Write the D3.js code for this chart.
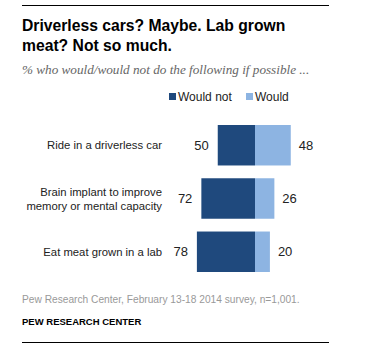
<!DOCTYPE html>
<html>
<head>
<meta charset="utf-8">
<script src="https://cdn.jsdelivr.net/npm/d3@7"></script>
<style>
  body { margin: 0; background: #fff; }
  svg { display: block; }
</style>
</head>
<body>
<div id="chart"></div>
<script>
const categories = ["Ride in a driverless car", "Brain implant to improve|memory or mental capacity", "Eat meat grown in a lab"];
const wouldNot = [50, 72, 78];
const would = [48, 26, 20];
const seriesNames = ["Would not", "Would"];

const width = 374, height = 352;
const dark = "#1f497d", light = "#8db4e2";

const svg = d3.select("#chart").append("svg")
  .attr("width", width)
  .attr("height", height);

// rules top and bottom
svg.append("line").attr("x1", 22).attr("x2", 329).attr("y1", 5.5).attr("y2", 5.5)
  .attr("stroke", "#000").attr("stroke-width", 1);
svg.append("line").attr("x1", 22).attr("x2", 329).attr("y1", 342.5).attr("y2", 342.5)
  .attr("stroke", "#000").attr("stroke-width", 1);

// title
const title = svg.append("text")
  .attr("x", 22)
  .attr("font-family", "Liberation Sans, Arial, sans-serif")
  .attr("font-weight", "bold")
  .attr("font-size", 15.7)
  .attr("fill", "#000");
title.append("tspan").attr("x", 22).attr("y", 31).text("Driverless cars? Maybe. Lab grown");
title.append("tspan").attr("x", 22).attr("y", 51).text("meat? Not so much.");

svg.append("text")
  .attr("x", 22).attr("y", 74)
  .attr("font-family", "Liberation Serif, Georgia, serif")
  .attr("font-style", "italic")
  .attr("font-size", 13.2)
  .attr("fill", "#666")
  .text("% who would/would not do the following if possible ...");

const x = d3.scaleLinear()
  .domain([-80, 80])
  .range([255 - 80 * 0.745, 255 + 80 * 0.745]);

const y = d3.scaleBand()
  .domain(categories)
  .range([125, 272])
  .paddingInner(0.24);

const color = d3.scaleOrdinal().domain(seriesNames).range([dark, light]);

const labelFont = "Liberation Sans, Arial, sans-serif";

// legend
const legend = svg.append("g")
  .attr("font-family", labelFont)
  .attr("font-size", 12)
  .attr("fill", "#222");
const legendX = [169, 246];
seriesNames.forEach((name, i) => {
  legend.append("rect")
    .attr("x", legendX[i]).attr("y", 93)
    .attr("width", 7).attr("height", 7)
    .attr("fill", color(name));
  legend.append("text")
    .attr("x", legendX[i] + 9).attr("y", 101)
    .text(name);
});

const rows = categories.map((c, i) => ({ cat: c, wouldNot: wouldNot[i], would: would[i] }));

const g = svg.append("g");

g.selectAll("rect.notbar")
  .data(rows)
  .join("rect")
  .attr("class", "notbar")
  .attr("x", d => x(-d.wouldNot))
  .attr("y", d => y(d.cat))
  .attr("width", d => x(0) - x(-d.wouldNot))
  .attr("height", y.bandwidth())
  .attr("fill", dark);

g.selectAll("rect.wouldbar")
  .data(rows)
  .join("rect")
  .attr("class", "wouldbar")
  .attr("x", x(0))
  .attr("y", d => y(d.cat))
  .attr("width", d => x(d.would) - x(0))
  .attr("height", y.bandwidth())
  .attr("fill", light);

g.selectAll("text.notval")
  .data(rows)
  .join("text")
  .attr("class", "notval")
  .attr("x", d => x(-d.wouldNot) - 9)
  .attr("y", d => y(d.cat) + y.bandwidth() / 2 + 4.5)
  .attr("text-anchor", "end")
  .attr("font-family", labelFont)
  .attr("font-size", 13)
  .attr("fill", "#222")
  .text(d => d.wouldNot);

g.selectAll("text.wouldval")
  .data(rows)
  .join("text")
  .attr("class", "wouldval")
  .attr("x", d => x(d.would) + 8)
  .attr("y", d => y(d.cat) + y.bandwidth() / 2 + 4.5)
  .attr("font-family", labelFont)
  .attr("font-size", 13)
  .attr("fill", "#222")
  .text(d => d.would);

// category labels
g.selectAll("text.cat")
  .data(rows)
  .join("text")
  .attr("class", "cat")
  .attr("text-anchor", "end")
  .attr("font-family", labelFont)
  .attr("font-size", 11.3)
  .attr("fill", "#222")
  .each(function(d) {
    const lines = d.cat.split("|");
    const cy = y(d.cat) + y.bandwidth() / 2;
    const start = cy + 4 - (lines.length - 1) * 14 / 2;
    d3.select(this).selectAll("tspan")
      .data(lines)
      .join("tspan")
      .attr("x", 162)
      .attr("y", (l, i) => start + i * 14)
      .text(l => l);
  });

// footer
svg.append("text")
  .attr("x", 22).attr("y", 303)
  .attr("font-family", labelFont)
  .attr("font-size", 10.2)
  .attr("fill", "#999")
  .text("Pew Research Center, February 13-18 2014 survey, n=1,001.");

svg.append("text")
  .attr("x", 22).attr("y", 325)
  .attr("font-family", labelFont)
  .attr("font-weight", "bold")
  .attr("font-size", 9.5)
  .attr("fill", "#000")
  .text("PEW RESEARCH CENTER");
</script>
</body>
</html>
